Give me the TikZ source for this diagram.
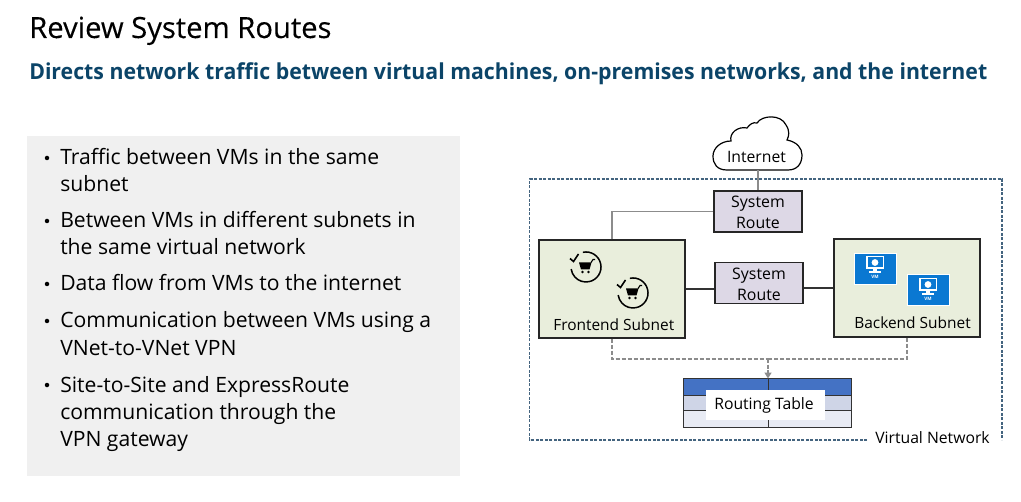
\documentclass[tikz,border=0pt]{standalone}
\usepackage{fontspec}
\setmainfont{Open Sans}
\usetikzlibrary{arrows.meta}
\newdimen\pxu \pxu=0.75pt
\definecolor{subcol}{HTML}{0B4468}
\definecolor{panel}{HTML}{F0F0F0}
\definecolor{subnet}{HTML}{E9EEDC}
\definecolor{routecol}{HTML}{DDD8E6}
\definecolor{vnetcol}{HTML}{44647F}
\definecolor{wire}{HTML}{8C8C8C}
\definecolor{rowa}{HTML}{4472C4}
\definecolor{rowb}{HTML}{CFD5E7}
\definecolor{rowc}{HTML}{E8EBF4}
\definecolor{vmblue}{HTML}{0A78D2}
\newcommand{\uppad}{\rule{0pt}{10pt}}
\tikzset{
  x=0.75pt,y=-0.75pt,
  bullettext/.style={anchor=base west,inner sep=0pt,font=\fontsize{15.85}{18}\selectfont,text=black},
  dot/.style={circle,fill=black,inner sep=0pt,minimum size=4.5\pxu},
  subnetbox/.style={draw=black!85,line width=1.15\pxu,fill=subnet,minimum width=146\pxu,minimum height=98\pxu,inner sep=0pt},
  routebox/.style={draw=black!85,line width=1.15\pxu,fill=routecol,minimum width=88\pxu,minimum height=41\pxu,inner sep=0pt,align=center,font=\fontsize{11.9}{15.8}\selectfont},
  difflabel/.style={inner sep=0pt,font=\fontsize{11.8}{14}\selectfont,anchor=base west},
  subnetlabel/.style={inner sep=0pt,font=\fontsize{11.6}{14}\selectfont,anchor=base west},
  graywire/.style={draw=wire,line width=1.8\pxu},
  darkwire/.style={draw=black!80,line width=1.2\pxu},
  dashwire/.style={draw=wire,line width=1.4\pxu,dash pattern=on 4\pxu off 2\pxu},
  rowline/.style={draw=black!80,line width=1\pxu},
  vmicon/.style={fill=vmblue,draw=white,line width=0.8\pxu,minimum width=42\pxu,minimum height=31\pxu,inner sep=0pt},
}
\newcommand{\carticon}[2]{%
  \begin{scope}[shift={(#1,#2)}]
    \draw[black,line width=1.5\pxu] (-3.1,-14.7) arc[start angle=-102,end angle=172,radius=15] ;
    \draw[black,line width=1.6\pxu] (-16,-8.5) -- (-12.5,-5.5) -- (-7.5,-13);
    \fill[black] (-7,-4.5) -- (5.5,-4.5) -- (3.5,2.5) -- (-5,2.5) -- cycle;
    \draw[black,line width=1.1\pxu] (5,-4.5) -- (7,-7.5) -- (9,-7.5);
    \fill[black] (-3.5,5) circle[radius=1.4];
    \fill[black] (2.5,5) circle[radius=1.4];
  \end{scope}}
\newcommand{\vmglyph}[2]{%
  \begin{scope}[shift={(#1,#2)}]
    \fill[white] (-9,-10) rectangle (9,3);
    \fill[vmblue] (-7.5,-8.5) rectangle (7.5,1.5);
    \fill[white] (0,-3.5) circle[radius=3.4];
    \fill[white] (-2,3) rectangle (2,5.5);
    \fill[white] (-6,5.5) rectangle (6,6.7);
    \node[inner sep=0pt,text=white,font=\fontsize{3.4}{4}\selectfont\bfseries] at (0,11) {VM};
  \end{scope}}
\begin{document}
\begin{tikzpicture}
\useasboundingbox (0,0) rectangle (1021,502);
\fill[white] (0,0) rectangle (1021,502);
% headings
\node[anchor=base west,inner sep=0pt,font=\fontsize{21.9}{24}\selectfont\addfontfeatures{FakeBold=0.25},text=black] (title) at (29,38) {Review System Routes};
\node[anchor=base west,inner sep=0pt,font=\fontsize{16.5}{20}\selectfont\bfseries\addfontfeatures{FakeStretch=0.967},text=subcol] (subtitle) at (29,80) {Directs network traffic between virtual machines, on-premises networks, and the internet};
% panel
\fill[panel] (27,136) rectangle (460,476);
\foreach \bx/\by in {47/158,47/221,47/284,47/321,47/385}{\node[dot] at (\bx,\by) {};}
\node[bullettext] (b1a) at (60,165) {Traffic between VMs in the same};
\node[bullettext] (b1b) at (60,192) {subnet};
\node[bullettext] (b2a) at (60,228) {Between VMs in different subnets in};
\node[bullettext] (b2b) at (60,255) {the same virtual network};
\node[bullettext] (b3a) at (60,291) {Data flow from VMs to the internet};
\node[bullettext] (b4a) at (60,328) {Communication between VMs using a};
\node[bullettext] (b4b) at (60,355) {VNet-to-VNet VPN};
\node[bullettext] (b5a) at (60,392) {Site-to-Site and ExpressRoute};
\node[bullettext] (b5b) at (60,419) {communication through the};
\node[bullettext] (b5c) at (60,446) {VPN gateway};
% virtual network border
\draw[vnetcol,line width=1.1\pxu,dash pattern=on 3\pxu off 1.5\pxu] (867,440) -- (529.5,440) -- (529.5,179) -- (1002,179) -- (1002,440);
\node[difflabel] (vnet) at (875,443) {Virtual Network};
% cloud
\draw[black,line width=1.2\pxu,fill=white] (727,170)
  .. controls (717,170) and (713,164) .. (713,156)
  .. controls (713,148) and (721,141) .. (731,141)
  .. controls (729,133) and (738,126) .. (747,128)
  .. controls (750,124) and (753,122) .. (757,123)
  .. controls (762,115) and (781,114) .. (786,125)
  .. controls (790,131) and (789,136) .. (787,140)
  .. controls (797,142) and (802,148) .. (802,155)
  .. controls (802,164) and (797,170) .. (788,170)
  -- cycle;
\node[inner sep=0pt,font=\fontsize{11.8}{14}\selectfont] (internet) at (756.5,157) {Internet};
\coordinate (cloudout) at (758,170);
% boxes
\node[subnetbox] (front) at (612,289) {};
\node[subnetbox] (back) at (907,288) {};
\node[routebox] (routeA) at (758,211.5) {\uppad System\\Route};
\node[routebox] (routeB) at (759,283) {\uppad System\\Route};
% connectors
\draw[graywire] (cloudout) -- (routeA.north);
\draw[graywire] (front.north) |- (routeA.west);
\draw[darkwire] (front.east) -- (front.east -| routeB.west);
\draw[darkwire] (back.west) -- (back.west -| routeB.east);
% table
\node[draw=black!80,line width=1\pxu,minimum width=167\pxu,minimum height=48\pxu,inner sep=0pt] (table) at (767.5,403) {};
\fill[rowa] (table.north west) rectangle (851,395);
\fill[rowb] (684,395) rectangle (851,410);
\fill[rowc] (684,410) rectangle (851,427);
\draw[rowline] (table.north west) rectangle (table.south east);
\draw[rowline] (684,395) -- (851,395);
\draw[rowline] (684,410) -- (851,410);
\draw[rowline] (768,379) -- (768,427);
\node[fill=white,minimum width=119\pxu,minimum height=30\pxu,inner sep=0pt,font=\fontsize{11.8}{14}\selectfont] (rtlabel) at (765.5,405) {\hspace*{-3\pxu}Routing Table};
\coordinate (bus) at (768,359);
\draw[dashwire] (front.south) |- (bus);
\draw[dashwire] (back.south) |- (bus);
\draw[wire,line width=1.6\pxu,dash pattern=on 4\pxu off 1.5\pxu,-{Triangle[length=4.5pt,width=5.25pt]}] (bus) -- (bus |- table.north);
% subnet labels and icons
\node[subnetlabel] (fl) at (553,330) {Frontend Subnet};
\node[subnetlabel] (bl) at (854,329) {Backend Subnet};
\carticon{586}{267}
\carticon{633}{293}
\node[vmicon] (vm1) at (875,268.5) {};
\vmglyph{875}{266}
\node[vmicon] (vm2) at (928,290) {};
\vmglyph{928}{288}
\end{tikzpicture}
\end{document}
